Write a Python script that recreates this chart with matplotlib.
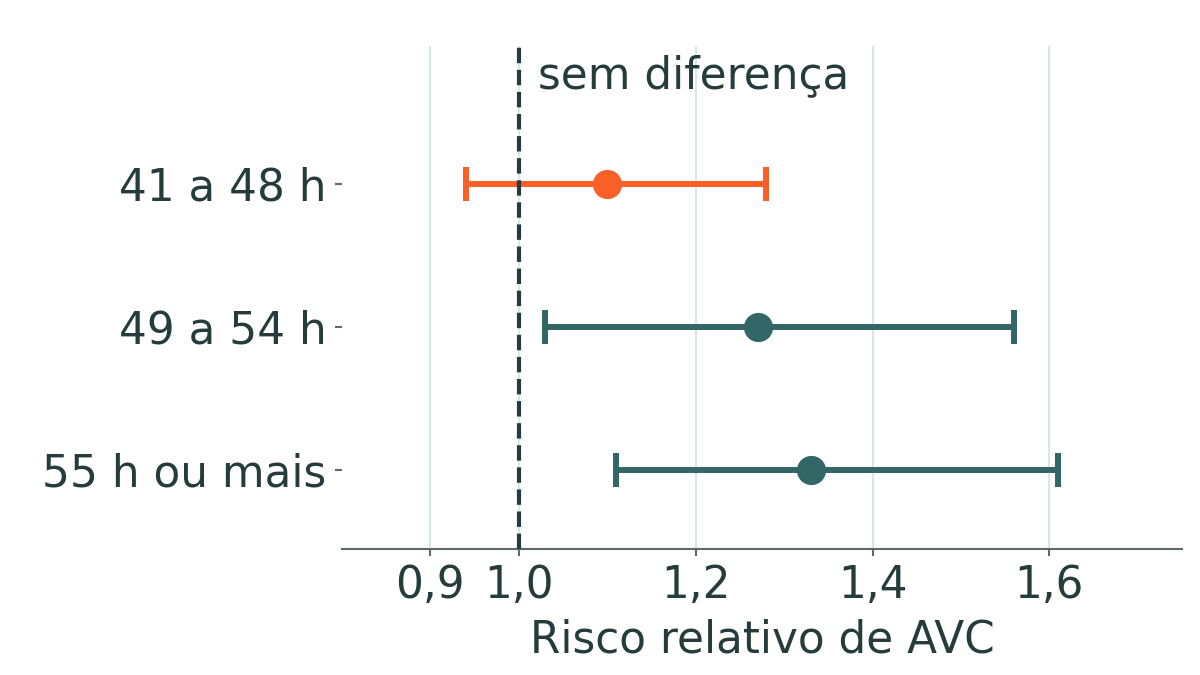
import matplotlib
matplotlib.use("Agg")
import matplotlib.pyplot as plt

# dados
grupos = ["41 a 48 h", "49 a 54 h", "55 h ou mais"]
risco = [1.10, 1.27, 1.33]
ic_inf = [0.94, 1.03, 1.11]
ic_sup = [1.28, 1.56, 1.61]
cores = ["#fa5f27", "#336666", "#336666"]
ticks_x = [0.9, 1.0, 1.2, 1.4, 1.6]
ticks_lab = ["0,9", "1,0", "1,2", "1,4", "1,6"]

texto = "#263c3c"
fs = 31.5
plt.rcParams["font.family"] = "DejaVu Sans"
plt.rcParams["font.size"] = fs

fig = plt.figure(figsize=(12, 6.75), dpi=100)
ax = fig.add_axes([0.285, 0.187, 0.70, 0.745])

ypos = [2, 1, 0]
for i in range(len(grupos)):
    ax.errorbar(risco[i], ypos[i],
                xerr=[[risco[i] - ic_inf[i]], [ic_sup[i] - risco[i]]],
                fmt="o", color=cores[i], ms=20, lw=4.3,
                capsize=12, capthick=4.3, zorder=3)

ax.axvline(1.0, color=texto, lw=3, ls="--", zorder=4)
ax.text(1.0215, 2.76, "sem diferença", color=texto, fontsize=fs,
        va="center", ha="left")

ax.set_xlim(0.8, 1.75)
ax.set_ylim(-0.552, 2.965)
ax.set_xticks(ticks_x)
ax.set_xticklabels(ticks_lab)
ax.set_yticks(ypos)
ax.set_yticklabels(grupos)
ax.grid(axis="x", color="#d5e9ea", lw=1.5, zorder=0)
ax.set_axisbelow(True)

for s in ["top", "right", "left"]:
    ax.spines[s].set_visible(False)
ax.spines["bottom"].set_color("#5f6b6b")
ax.spines["bottom"].set_linewidth(1.5)
ax.tick_params(axis="both", colors="#5f6b6b", labelcolor=texto,
               labelsize=fs, length=5, width=1.5, pad=6)
ax.set_xlabel("Risco relativo de AVC", color=texto, fontsize=fs, labelpad=8)

fig.savefig("out.png", dpi=100)
